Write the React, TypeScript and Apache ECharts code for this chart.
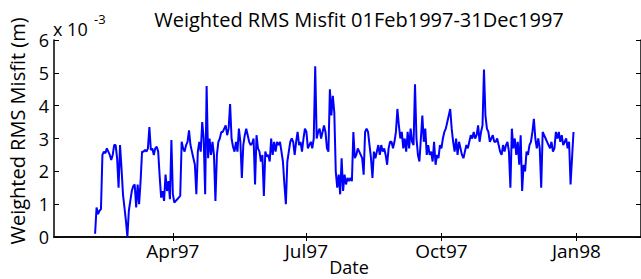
import React, { useEffect, useRef } from "react";
import * as echarts from "echarts";

// Daily axis categories: 10 Jan 1997 .. 14 Feb 1998
const axisStart = "1997-01-10";
const axisDays = 401;
// First day with a plotted misfit value
const firstDate = "1997-02-07";
// Weighted RMS misfit, units of 1e-3 m, one value per day from firstDate
const misfitE3 = [
  0.1, 0.9, 0.7, 0.8, 0.85, 2.5, 2.6, 2.55, 2.7, 2.6, 2.5, 2.35, 2.5, 2.8, 2.8, 2.4, 1.5, 2.8, 2.1, 1.3,
  0.9, 0.5, 0.0, 0.8, 1.1, 1.4, 1.55, 1.6, 0.9, 1.6, 1.0, 1.7, 2.6, 2.6, 2.65, 2.6, 2.7, 3.35, 2.65, 2.7,
  2.5, 2.7, 2.75, 2.6, 1.85, 1.2, 1.4, 1.1, 1.9, 1.4, 1.7, 1.15, 2.95, 1.3, 1.05, 1.1, 1.15, 1.2, 1.25, 2.9,
  2.7, 2.6, 2.8, 2.9, 3.25, 2.8, 2.6, 2.4, 2.2, 1.3, 2.6, 2.9, 2.6, 3.5, 3.0, 1.3, 4.6, 2.4, 3.0, 2.5,
  2.9, 2.5, 1.1, 2.5, 2.9, 3.0, 3.2, 3.2, 3.3, 3.4, 3.1, 3.3, 4.05, 3.0, 2.75, 2.6, 2.9, 2.6, 3.3, 2.9,
  1.8, 2.8, 3.1, 3.3, 3.1, 2.9, 2.8, 2.85, 3.0, 1.6, 3.1, 2.7, 2.6, 2.3, 2.5, 1.25, 2.6, 2.45, 2.5, 2.3,
  3.0, 2.5, 2.9, 2.6, 2.9, 2.8, 2.9, 2.6, 2.3, 1.6, 1.0, 2.3, 2.6, 2.9, 3.0, 2.9, 2.5, 2.9, 3.2, 2.8,
  2.9, 2.6, 3.0, 3.3, 3.2, 2.7, 2.8, 2.9, 2.7, 3.0, 5.2, 3.0, 3.2, 3.3, 3.0, 3.2, 3.4, 3.2, 2.7, 2.6,
  4.5, 3.7, 4.3, 3.8, 2.0, 1.5, 1.9, 1.3, 2.4, 1.4, 1.9, 1.6, 1.8, 1.7, 1.8, 1.7, 3.2, 2.4, 2.5, 2.7,
  2.6, 2.5, 2.4, 1.9, 3.2, 3.3, 3.2, 2.8, 2.4, 1.8, 2.6, 2.4, 2.6, 2.8, 2.5, 2.8, 2.6, 2.7, 2.5, 2.2,
  2.7, 2.9, 2.9, 2.7, 2.9, 3.2, 3.9, 3.4, 3.0, 3.2, 2.7, 3.0, 2.6, 3.2, 2.7, 3.3, 2.9, 2.8, 4.65, 3.0,
  2.5, 2.3, 3.0, 3.7, 2.9, 3.3, 2.5, 2.8, 2.5, 2.6, 2.3, 2.9, 2.2, 2.5, 2.4, 2.8, 2.7, 3.0, 3.2, 3.3,
  3.5, 3.7, 3.9, 3.3, 2.9, 2.6, 3.0, 2.5, 2.9, 2.7, 2.5, 2.4, 2.6, 2.8, 2.7, 2.9, 3.1, 3.0, 3.2, 3.0,
  3.1, 3.4, 2.9, 3.2, 3.4, 5.1, 3.7, 3.3, 3.2, 2.9, 3.0, 3.1, 2.9, 2.9, 3.0, 2.8, 2.6, 2.5, 2.8, 2.6,
  2.8, 2.9, 2.6, 1.5, 3.3, 2.7, 3.0, 2.5, 2.9, 2.2, 3.1, 1.4, 2.2, 2.0, 2.6, 2.5, 2.8, 2.9, 3.2, 3.6,
  3.0, 2.7, 3.0, 2.7, 1.5, 3.2, 3.1, 3.0, 2.9, 2.8, 2.7, 2.9, 2.6, 2.7, 3.2, 3.0, 3.2, 2.9, 3.1, 2.8,
  2.9, 3.0, 2.7, 2.9, 1.6, 2.4, 3.2,
];
const yTicks = [0, 1, 2, 3, 4, 5, 6];
const monthNames = ["Jan", "Feb", "Mar", "Apr", "May", "Jun", "Jul", "Aug", "Sep", "Oct", "Nov", "Dec"];
const labeledMonths = ["01", "04", "07", "10"];

const titleText = "Weighted RMS Misfit 01Feb1997-31Dec1997";
const yName = "Weighted RMS Misfit (m)";
const xName = "Date";

const FONT = "Open Sans";

function buildCategories(): string[] {
  const out: string[] = [];
  const t0 = Date.parse(axisStart + "T00:00:00Z");
  for (let i = 0; i < axisDays; i++) {
    out.push(new Date(t0 + i * 86400000).toISOString().slice(0, 10));
  }
  return out;
}

export default function App() {
  const ref = useRef<HTMLDivElement>(null);
  useEffect(() => {
    if (!ref.current) return;
    const chart = echarts.init(ref.current, undefined, { renderer: "svg" });
    const categories = buildCategories();
    const startIdx = categories.indexOf(firstDate);
    const seriesData = categories.map((_, i) => {
      const k = i - startIdx;
      return k >= 0 && k < misfitE3.length ? misfitE3[k] : null;
    });
    const isQuarter = (_i: number, v: string) => {
      const [, m, d] = v.split("-");
      return d === "01" && labeledMonths.includes(m);
    };
    const fmt = (v: string) => {
      const [y, m] = v.split("-");
      return monthNames[parseInt(m, 10) - 1] + y.slice(2);
    };
    const axisLine = { show: true, lineStyle: { color: "#000", width: 1.5 } };
    const tick = (len: number) => ({ show: true, inside: true, length: len, lineStyle: { color: "#000", width: 1 } });
    chart.setOption({
      animation: false,
      backgroundColor: "#fff",
      grid: { left: 54, top: 40, right: -2, bottom: 42, containLabel: false },
      xAxis: [
        {
          type: "category",
          data: categories,
          boundaryGap: false,
          position: "bottom",
          axisLine,
          axisTick: { ...tick(4), interval: isQuarter },
          axisLabel: {
            interval: isQuarter,
            formatter: fmt,
            color: "#000",
            fontFamily: FONT,
            fontSize: 19,
            margin: 4,
          },
          splitLine: { show: false },
        },
        {
          type: "category",
          data: categories,
          boundaryGap: false,
          position: "top",
          axisLine,
          axisTick: { ...tick(4), interval: isQuarter },
          axisLabel: { show: false },
          splitLine: { show: false },
        },
      ],
      yAxis: [
        {
          type: "value",
          min: yTicks[0],
          max: yTicks[yTicks.length - 1],
          interval: 1,
          position: "left",
          axisLine,
          axisTick: tick(5),
          axisLabel: { color: "#000", fontFamily: FONT, fontSize: 18, margin: 5 },
          splitLine: { show: false },
        },
        {
          type: "value",
          min: yTicks[0],
          max: yTicks[yTicks.length - 1],
          interval: 1,
          position: "right",
          axisLine,
          axisTick: tick(5),
          axisLabel: { show: false },
          splitLine: { show: false },
        },
      ],
      series: [
        {
          type: "line",
          xAxisIndex: 0,
          yAxisIndex: 0,
          data: seriesData,
          showSymbol: false,
          symbol: "none",
          lineStyle: { color: "#0000ff", width: 2 },
          emphasis: { disabled: true },
        },
      ],
      graphic: [
        {
          type: "text",
          x: 359,
          y: 19,
          style: { text: titleText, fill: "#000", font: `20px "${FONT}"`, align: "center", verticalAlign: "middle" },
        },
        {
          type: "text",
          x: 17,
          y: 131,
          rotation: Math.PI / 2,
          style: { text: yName, fill: "#000", font: `20px "${FONT}"`, align: "center", verticalAlign: "middle" },
        },
        {
          type: "text",
          x: 349,
          y: 267,
          style: { text: xName, fill: "#000", font: `18px "${FONT}"`, align: "center", verticalAlign: "middle" },
        },
        {
          type: "text",
          x: 53,
          y: 29,
          style: { text: "x 10", fill: "#000", font: `18px "${FONT}"`, align: "left", verticalAlign: "middle" },
        },
        {
          type: "text",
          x: 94,
          y: 19,
          style: { text: "-3", fill: "#000", font: `13px "${FONT}"`, align: "left", verticalAlign: "middle" },
        },
      ],
    });
    return () => chart.dispose();
  }, []);
  return (
    <div
      ref={ref}
      style={{ position: "fixed", left: 0, top: 0, width: 641, height: 279, background: "#fff" }}
    />
  );
}
